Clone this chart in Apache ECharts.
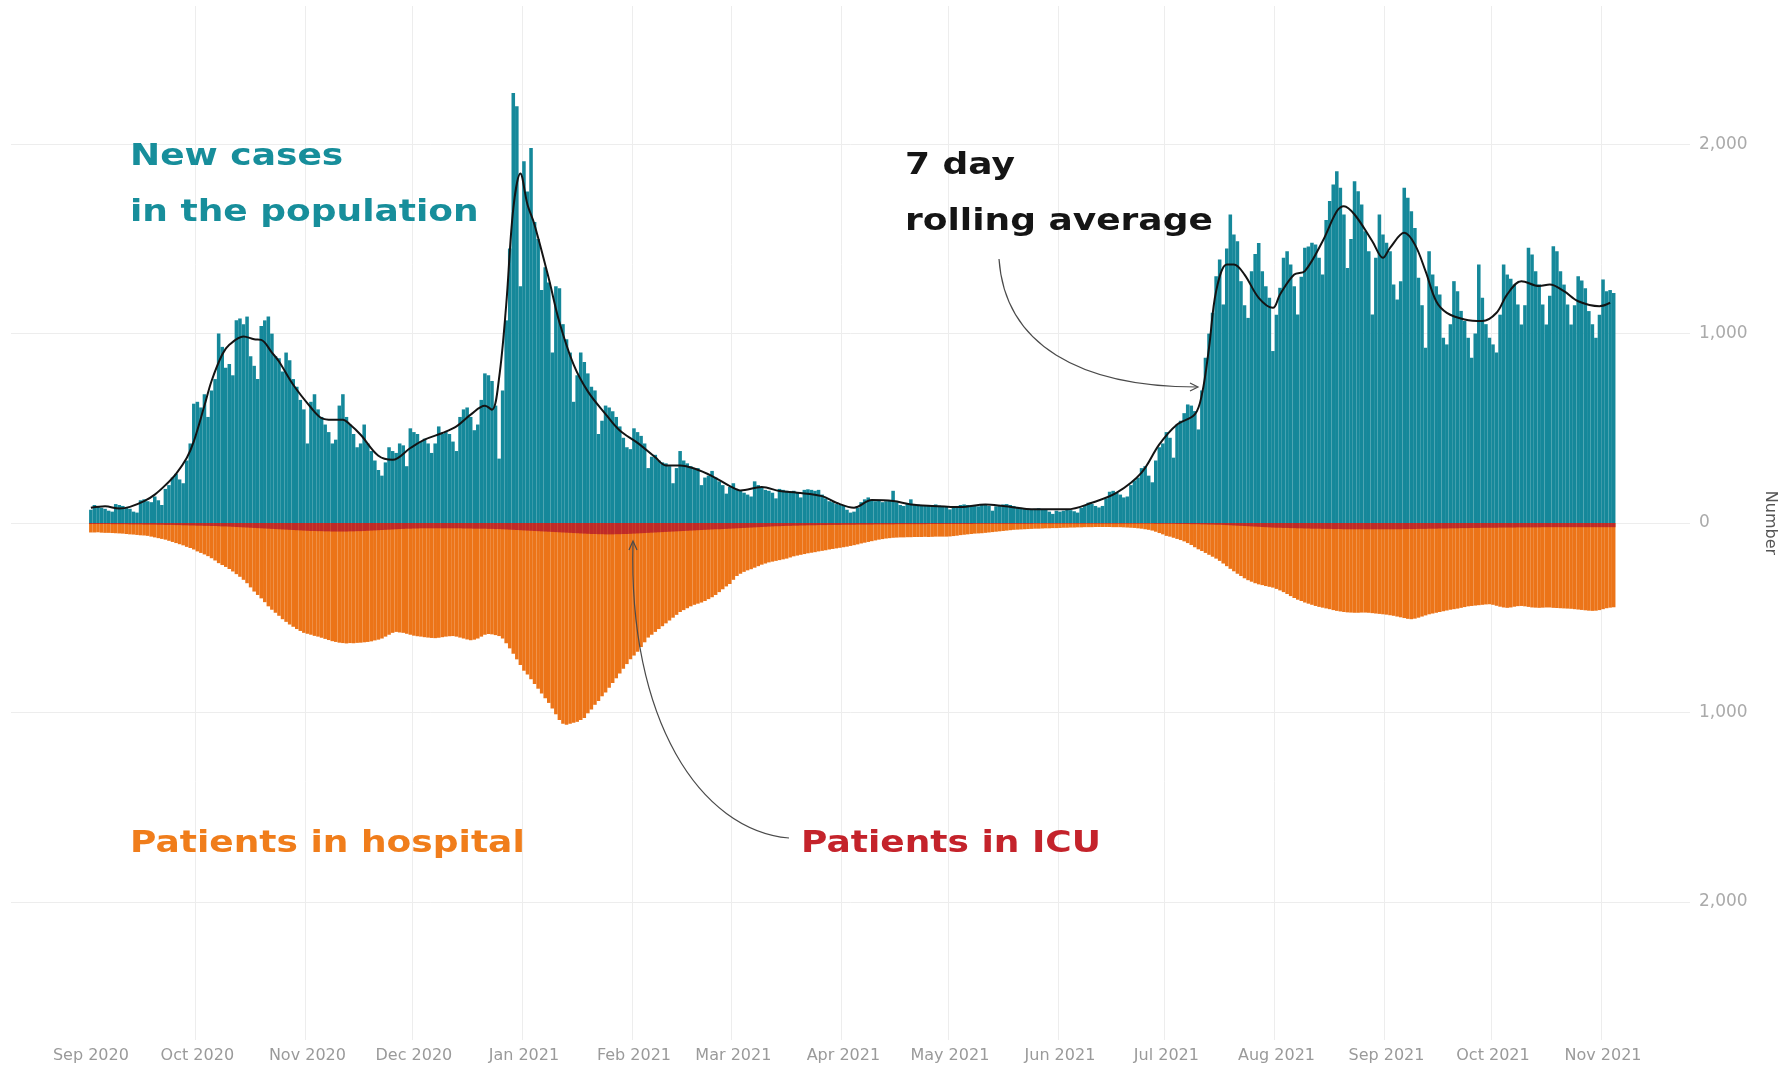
<!DOCTYPE html>
<html>
<head>
<meta charset="utf-8">
<title>New cases, patients in hospital and ICU</title>
<script src="https://cdn.jsdelivr.net/npm/echarts@6.0.0/dist/echarts.min.js"></script>
<style>
  html, body { margin: 0; padding: 0; background: #fff; }
  #chart { width: 1780px; height: 1066px; }
</style>
</head>
<body>
<div id="chart"></div>
<script>
// daily values, one inner array per month, Sep 2020 .. 4 Nov 2021
const firstDay = "2020-09-01";

const newCases = [
  // Sep 2020
  [70, 95, 85, 80, 75, 65, 60, 100, 95, 90, 80, 75, 60, 55, 120, 125, 115, 110, 140, 120, 95, 180, 200, 240, 260, 230, 210, 330, 420, 630],
  // Oct 2020
  [640, 610, 680, 560, 700, 760, 1000, 930, 820, 840, 780, 1070, 1080, 1050, 1090, 880, 830, 760, 1040, 1070, 1090, 1000, 880, 870, 800, 900, 860, 760, 720, 650, 600],
  // Nov 2020
  [420, 640, 680, 600, 560, 520, 480, 420, 440, 620, 680, 560, 520, 470, 400, 420, 520, 420, 380, 330, 280, 250, 320, 400, 380, 370, 420, 410, 300, 500],
  // Dec 2020
  [480, 470, 430, 445, 420, 370, 420, 510, 470, 480, 470, 430, 380, 560, 600, 610, 560, 490, 520, 650, 790, 780, 750, 620, 340, 700, 1070, 1450, 2270, 2200, 1250],
  // Jan 2021
  [1910, 1750, 1980, 1590, 1500, 1230, 1350, 1270, 900, 1250, 1240, 1050, 970, 900, 640, 780, 900, 850, 790, 720, 700, 470, 540, 620, 610, 590, 560, 510, 450, 400, 390],
  // Feb 2021
  [500, 480, 460, 420, 290, 350, 360, 330, 320, 315, 300, 210, 290, 380, 330, 315, 300, 290, 290, 200, 240, 250, 275, 240, 220, 200, 155, 190],
  // Mar 2021
  [210, 180, 170, 160, 150, 140, 220, 200, 185, 175, 170, 160, 130, 180, 175, 170, 165, 170, 160, 135, 175, 178, 175, 170, 175, 150, 130, 115, 110, 100, 95],
  // Apr 2021
  [90, 70, 55, 60, 80, 110, 125, 135, 120, 115, 118, 110, 115, 120, 170, 110, 95, 90, 100, 125, 100, 98, 95, 92, 90, 95, 98, 92, 90, 88],
  // May 2021
  [72, 80, 90, 95, 98, 95, 92, 90, 88, 95, 100, 90, 65, 88, 95, 98, 100, 95, 90, 85, 80, 78, 75, 70, 75, 78, 72, 70, 60, 48, 65],
  // Jun 2021
  [60, 65, 72, 68, 62, 55, 80, 95, 107, 100, 90, 82, 90, 130, 165, 170, 160, 150, 135, 140, 200, 225, 240, 290, 300, 250, 215, 330, 400, 420],
  // Jul 2021
  [480, 450, 345, 520, 540, 580, 626, 620, 591, 494, 700, 872, 1000, 1110, 1303, 1391, 1154, 1450, 1629, 1523, 1488, 1277, 1150, 1083, 1330, 1420, 1479, 1330, 1250, 1189, 908],
  // Aug 2021
  [1100, 1242, 1400, 1435, 1365, 1250, 1101, 1300, 1453, 1460, 1480, 1470, 1400, 1312, 1600, 1700, 1787, 1857, 1770, 1629, 1347, 1500, 1805, 1752, 1682, 1541, 1435, 1101, 1400, 1629, 1523],
  // Sep 2021
  [1480, 1435, 1259, 1180, 1277, 1770, 1717, 1646, 1558, 1295, 1150, 925, 1435, 1312, 1250, 1207, 978, 943, 1050, 1277, 1224, 1120, 1066, 978, 872, 1000, 1365, 1189, 1050, 978],
  // Oct 2021
  [943, 900, 1100, 1365, 1312, 1290, 1260, 1154, 1048, 1150, 1453, 1418, 1330, 1260, 1154, 1048, 1200, 1462, 1435, 1330, 1259, 1154, 1048, 1150, 1303, 1280, 1240, 1119, 1050, 978, 1100],
  // Nov 2021
  [1286, 1224, 1230, 1215]
];

const inHospital = [
  [50, 50, 49, 51, 52, 52, 53, 54, 55, 56, 58, 60, 61, 63, 65, 66, 68, 72, 76, 80, 84, 88, 94, 100, 106, 112, 118, 126, 132, 140],
  [150, 158, 166, 175, 186, 198, 212, 222, 232, 243, 256, 270, 284, 300, 318, 340, 362, 380, 398, 418, 440, 458, 474, 490, 508, 522, 536, 548, 560, 570, 580],
  [585, 590, 596, 600, 606, 612, 618, 624, 628, 632, 634, 636, 634, 635, 633, 632, 630, 628, 625, 620, 616, 610, 600, 590, 580, 575, 578, 580, 585, 590],
  [595, 598, 600, 603, 605, 607, 608, 606, 603, 600, 598, 597, 600, 605, 610, 615, 619, 616, 610, 600, 590, 586, 588, 592, 597, 610, 635, 662, 690, 720, 750],
  [780, 800, 825, 850, 875, 900, 925, 950, 980, 1010, 1040, 1060, 1065, 1060, 1055, 1050, 1040, 1030, 1005, 985, 960, 940, 915, 895, 870, 845, 820, 795, 770, 745, 720],
  [700, 680, 655, 630, 605, 590, 575, 560, 545, 530, 515, 500, 485, 470, 460, 450, 440, 432, 426, 420, 412, 402, 392, 380, 365, 350, 335, 322],
  [300, 280, 268, 258, 250, 244, 236, 228, 220, 214, 208, 204, 200, 196, 192, 188, 182, 176, 172, 168, 164, 160, 157, 154, 150, 147, 144, 140, 137, 134, 131],
  [128, 125, 121, 117, 113, 108, 104, 100, 96, 92, 88, 85, 82, 80, 78, 77, 76, 76, 75, 75, 74, 74, 74, 73, 74, 73, 72, 72, 72, 72],
  [71, 69, 67, 64, 62, 60, 58, 56, 55, 54, 52, 50, 48, 46, 44, 42, 40, 38, 36, 35, 34, 33, 32, 31, 30, 30, 29, 28, 28, 27, 27],
  [26, 25, 25, 24, 24, 23, 23, 22, 22, 22, 21, 21, 21, 21, 21, 22, 22, 22, 23, 24, 25, 26, 28, 30, 33, 36, 40, 46, 53, 60],
  [68, 72, 78, 84, 90, 97, 106, 116, 128, 139, 148, 158, 168, 178, 188, 200, 214, 228, 242, 255, 268, 280, 292, 302, 310, 318, 324, 328, 333, 337, 341],
  [348, 356, 365, 375, 386, 396, 405, 412, 420, 426, 432, 438, 443, 447, 451, 455, 460, 464, 467, 470, 472, 473, 474, 474, 473, 473, 474, 476, 478, 480, 482],
  [484, 487, 490, 494, 498, 502, 506, 508, 505, 500, 494, 488, 482, 478, 474, 470, 466, 462, 458, 455, 452, 448, 444, 440, 438, 436, 434, 432, 430, 429],
  [432, 437, 442, 446, 448, 446, 442, 439, 438, 440, 443, 446, 447, 448, 447, 446, 446, 448, 449, 450, 451, 452, 453, 455, 457, 459, 461, 463, 464, 463, 460],
  [455, 450, 447, 445]
];

const inICU = [
  [5, 5, 5, 5, 5, 5, 6, 6, 6, 6, 6, 7, 7, 7, 7, 8, 8, 8, 8, 9, 9, 10, 10, 10, 11, 11, 12, 12, 13, 13],
  [14, 14, 15, 15, 16, 16, 17, 18, 18, 19, 20, 21, 22, 23, 24, 25, 26, 27, 28, 29, 30, 31, 32, 33, 34, 35, 36, 37, 38, 39, 40],
  [41, 42, 42, 43, 43, 44, 44, 45, 45, 45, 45, 45, 44, 44, 43, 43, 42, 41, 40, 39, 38, 37, 36, 35, 34, 33, 32, 31, 30, 30],
  [29, 29, 28, 28, 28, 28, 28, 28, 28, 28, 28, 28, 28, 28, 29, 29, 29, 30, 30, 30, 30, 31, 31, 32, 32, 33, 34, 35, 36, 37, 38],
  [39, 40, 41, 42, 43, 44, 45, 46, 47, 48, 49, 50, 51, 52, 53, 54, 55, 56, 57, 58, 58, 59, 59, 60, 60, 60, 59, 59, 58, 58, 57],
  [56, 55, 54, 53, 52, 51, 50, 49, 48, 47, 46, 45, 44, 43, 42, 41, 40, 39, 38, 37, 36, 35, 34, 33, 33, 32, 31, 30],
  [29, 28, 27, 26, 25, 24, 23, 22, 21, 20, 19, 18, 17, 17, 16, 15, 15, 14, 14, 13, 13, 12, 12, 12, 11, 11, 11, 10, 10, 10, 10],
  [9, 9, 9, 9, 8, 8, 8, 8, 8, 7, 7, 7, 7, 7, 7, 6, 6, 6, 6, 6, 6, 6, 6, 6, 5, 5, 5, 5, 5, 5],
  [5, 5, 5, 5, 5, 5, 5, 4, 4, 4, 4, 4, 4, 4, 4, 4, 4, 4, 4, 4, 4, 4, 4, 4, 3, 3, 3, 3, 3, 3, 3],
  [3, 3, 3, 3, 3, 3, 3, 3, 3, 3, 3, 3, 3, 3, 3, 3, 3, 3, 3, 3, 3, 3, 3, 3, 3, 3, 3, 4, 4, 4],
  [4, 4, 4, 5, 5, 5, 5, 6, 6, 6, 7, 7, 8, 8, 9, 9, 10, 11, 12, 13, 14, 15, 16, 17, 18, 19, 20, 21, 22, 23, 24],
  [25, 25, 26, 26, 27, 27, 28, 28, 29, 29, 30, 30, 30, 31, 31, 31, 32, 32, 32, 33, 33, 33, 33, 33, 33, 33, 33, 33, 33, 33, 33],
  [33, 33, 33, 33, 33, 32, 32, 32, 32, 31, 31, 31, 30, 30, 30, 29, 29, 29, 28, 28, 28, 27, 27, 27, 26, 26, 26, 25, 25, 25],
  [25, 25, 24, 24, 24, 24, 24, 23, 23, 23, 23, 23, 23, 23, 22, 22, 22, 22, 22, 22, 22, 22, 22, 22, 22, 22, 22, 22, 22, 22, 22],
  [22, 22, 22, 22]
];

// black line at a few days per week
const rollingAvg = [
  ["2020-09-01", 80], ["2020-09-05", 88], ["2020-09-09", 76], ["2020-09-12", 85], ["2020-09-16", 115],
  ["2020-09-19", 150], ["2020-09-22", 200], ["2020-09-25", 260], ["2020-09-28", 343], ["2020-09-30", 431],
  ["2020-10-03", 620], ["2020-10-05", 750], ["2020-10-08", 890], ["2020-10-10", 941], ["2020-10-14", 985],
  ["2020-10-17", 970], ["2020-10-19", 967], ["2020-10-22", 900], ["2020-10-24", 853], ["2020-10-28", 730],
  ["2020-11-02", 610], ["2020-11-05", 554], ["2020-11-08", 545], ["2020-11-11", 545], ["2020-11-13", 520],
  ["2020-11-16", 466], ["2020-11-21", 355], ["2020-11-25", 334], ["2020-11-30", 396], ["2020-12-04", 440],
  ["2020-12-09", 475], ["2020-12-13", 510], ["2020-12-17", 572], ["2020-12-21", 619], ["2020-12-23", 598],
  ["2020-12-25", 765], ["2020-12-27", 1150], ["2020-12-29", 1660], ["2020-12-31", 1845], ["2021-01-02", 1682],
  ["2021-01-04", 1574], ["2021-01-08", 1291], ["2021-01-11", 1060], ["2021-01-15", 836], ["2021-01-19", 695],
  ["2021-01-24", 575], ["2021-01-28", 488], ["2021-02-02", 423], ["2021-02-07", 347], ["2021-02-10", 304],
  ["2021-02-14", 304], ["2021-02-18", 288], ["2021-02-23", 248], ["2021-02-28", 195], ["2021-03-03", 172],
  ["2021-03-09", 190], ["2021-03-14", 169], ["2021-03-19", 160], ["2021-03-26", 142], ["2021-03-30", 107],
  ["2021-04-04", 81], ["2021-04-09", 121], ["2021-04-15", 116], ["2021-04-20", 98], ["2021-04-26", 90],
  ["2021-05-04", 84], ["2021-05-11", 98], ["2021-05-16", 90], ["2021-05-25", 72], ["2021-06-03", 72],
  ["2021-06-10", 107], ["2021-06-17", 160], ["2021-06-24", 266], ["2021-06-29", 415], ["2021-07-04", 520],
  ["2021-07-09", 573], ["2021-07-11", 679], ["2021-07-13", 925], ["2021-07-15", 1224], ["2021-07-18", 1365],
  ["2021-07-20", 1365], ["2021-07-23", 1312], ["2021-07-27", 1189], ["2021-07-31", 1136], ["2021-08-02", 1207],
  ["2021-08-06", 1312], ["2021-08-09", 1330], ["2021-08-14", 1488], ["2021-08-18", 1646], ["2021-08-20", 1673],
  ["2021-08-23", 1629], ["2021-08-28", 1488], ["2021-08-31", 1400], ["2021-09-02", 1453], ["2021-09-06", 1532],
  ["2021-09-09", 1470], ["2021-09-12", 1330], ["2021-09-15", 1171], ["2021-09-18", 1110], ["2021-09-23", 1075],
  ["2021-09-28", 1066], ["2021-10-02", 1110], ["2021-10-05", 1207], ["2021-10-09", 1277], ["2021-10-14", 1251],
  ["2021-10-17", 1259], ["2021-10-21", 1224], ["2021-10-25", 1171], ["2021-10-31", 1145], ["2021-11-03", 1163]
];

const monthStarts = ["2020-09-01", "2020-10-01", "2020-11-01", "2020-12-01", "2021-01-01", "2021-02-01", "2021-03-01", "2021-04-01",
  "2021-05-01", "2021-06-01", "2021-07-01", "2021-08-01", "2021-09-01", "2021-10-01", "2021-11-01"];
const monthLabels = ["Sep 2020", "Oct 2020", "Nov 2020", "Dec 2020", "Jan 2021", "Feb 2021", "Mar 2021", "Apr 2021",
  "May 2021", "Jun 2021", "Jul 2021", "Aug 2021", "Sep 2021", "Oct 2021", "Nov 2021"];
const yTicks = [-2000, -1000, 0, 1000, 2000];

// the time axis is padded by about three weeks on each side
const axisStart = "2020-08-10";
const axisEnd = "2021-11-25";

const DAY = 86400000;
const days = [];
for (let t = Date.parse(axisStart); t <= Date.parse(axisEnd); t += DAY) {
  days.push(new Date(t).toISOString().slice(0, 10));
}
const offset = days.indexOf(firstDay);

// spread monthly arrays over the day axis; hospital and ICU go below zero
const toAxis = (months, sign) => {
  const flat = [].concat(...months);
  return days.map((d, i) => {
    const v = flat[i - offset];
    return v == null ? null : sign * v;
  });
};

const colors = {
  cases: "#15889a",
  hospital: "#ec7418",
  icu: "#bf2a28",
  avg: "#141414",
  grid: "#ededed",
};

const chart = echarts.init(document.getElementById("chart"), null, { renderer: "canvas" });

const noteFont = 'bold 30px "DejaVu Sans"';
// text baseline y, the element is placed by its middle
const note = (text, x, baseline, color) => ({
  type: "text",
  x: x,
  y: baseline - 10,
  scaleX: 1.2,
  silent: true,
  z: 100,
  style: { text: text, fill: color, font: noteFont, verticalAlign: "middle", textVerticalAlign: "middle" },
});

const arrowStyle = { stroke: "#4a4a4a", lineWidth: 1.2, fill: null };

const option = {
  animation: false,
  backgroundColor: "#fff",
  textStyle: { fontFamily: '"DejaVu Sans", sans-serif' },
  grid: { left: 11, right: 90, top: 6, bottom: 26, containLabel: false, outerBoundsMode: "none" },
  xAxis: {
    type: "category",
    data: days,
    boundaryGap: true,
    axisLine: { show: false },
    axisTick: { show: false },
    axisLabel: {
      interval: (i, v) => monthStarts.includes(v),
      formatter: (v) => {
        const k = monthStarts.indexOf(v);
        return k >= 0 ? monthLabels[k] : "";
      },
      color: "#9a9a9a",
      fontSize: 16,
      margin: 8,
    },
    splitLine: {
      show: true,
      interval: (i, v) => monthStarts.includes(v),
      showMinLine: false,
      showMaxLine: false,
      lineStyle: { color: colors.grid, width: 1 },
    },
  },
  yAxis: {
    type: "value",
    position: "right",
    min: -2730,
    max: 2730,
    name: "Number",
    nameLocation: "middle",
    nameRotate: -90,
    nameGap: 72,
    nameTextStyle: { color: "#555", fontSize: 16 },
    axisLine: { show: false },
    axisTick: { show: false },
    axisLabel: {
      margin: 9,
      color: "#aaaaaa",
      fontSize: 17,
      showMinLabel: false,
      showMaxLabel: false,
      formatter: (v) => (yTicks.includes(v) ? Math.abs(v).toLocaleString("en-US") : ""),
    },
    splitLine: {
      show: true,
      showMinLine: false,
      showMaxLine: false,
      lineStyle: { color: colors.grid, width: 1 },
    },
  },
  series: [
    {
      name: "New cases",
      type: "bar",
      data: toAxis(newCases, 1),
      barGap: "-100%",
      barCategoryGap: "0%",
      itemStyle: { color: colors.cases },
      z: 2,
    },
    {
      name: "Patients in hospital",
      type: "bar",
      data: toAxis(inHospital, -1),
      barGap: "-100%",
      barCategoryGap: "0%",
      itemStyle: { color: colors.hospital },
      z: 2,
    },
    {
      name: "Patients in ICU",
      type: "bar",
      data: toAxis(inICU, -1),
      barGap: "-100%",
      barCategoryGap: "0%",
      itemStyle: { color: colors.icu },
      z: 3,
    },
    {
      name: "7 day rolling average",
      type: "line",
      data: rollingAvg,
      smooth: 0.35,
      symbol: "none",
      lineStyle: { color: colors.avg, width: 2 },
      z: 5,
    },
  ],
  graphic: [
    note("New cases", 130, 167, "#178e9b"),
    note("in the population", 130, 223, "#178e9b"),
    note("7 day", 905, 176, "#151515"),
    note("rolling average", 905, 232, "#151515"),
    note("Patients in hospital", 130, 854, "#f07d1b"),
    note("Patients in ICU", 801, 854, "#c4232b"),
    // arrow to the rolling average line
    {
      type: "bezierCurve", silent: true, z: 100,
      shape: { x1: 999, y1: 259, cpx1: 1005, cpy1: 345, cpx2: 1080, cpy2: 387, x2: 1197, y2: 387 },
      style: arrowStyle,
    },
    { type: "polyline", silent: true, z: 100, shape: { points: [[1190, 383], [1198, 387], [1190, 391]] }, style: arrowStyle },
    // arrow to the ICU band
    {
      type: "bezierCurve", silent: true, z: 100,
      shape: { x1: 789, y1: 838, cpx1: 700, cpy1: 830, cpx2: 628, cpy2: 720, x2: 633, y2: 542 },
      style: arrowStyle,
    },
    { type: "polyline", silent: true, z: 100, shape: { points: [[629, 550], [633, 541], [637, 550]] }, style: arrowStyle },
  ],
};

chart.setOption(option);
window.addEventListener("resize", () => chart.resize());
</script>
</body>
</html>
